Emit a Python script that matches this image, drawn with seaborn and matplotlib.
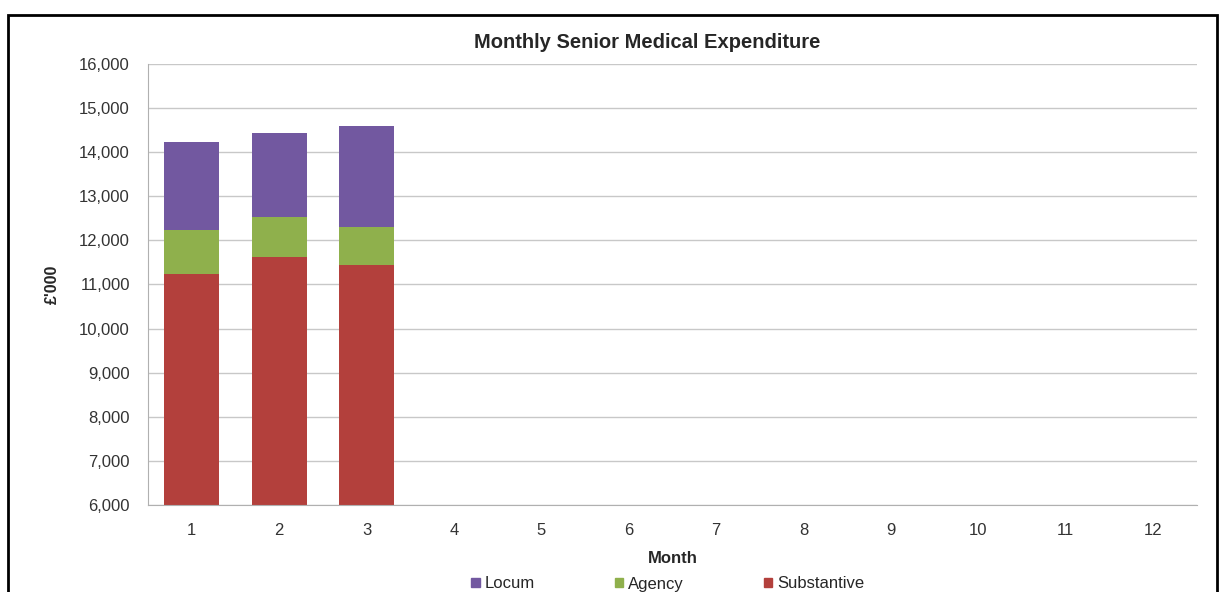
import pandas as pd
import numpy as np
import seaborn as sns
import matplotlib.pyplot as plt
from matplotlib.patches import Rectangle

sns.set_style('white')
plt.rcParams['font.family'] = ['Liberation Sans', 'DejaVu Sans']

# data (£'000)
months = [str(m) for m in range(1, 13)]
substantive = [11240, 11630, 11440, 0, 0, 0, 0, 0, 0, 0, 0, 0]
agency = [1000, 910, 870, 0, 0, 0, 0, 0, 0, 0, 0, 0]
locum = [1980, 1890, 2290, 0, 0, 0, 0, 0, 0, 0, 0, 0]

colors = {'Locum': '#7258a0', 'Agency': '#8fb04c', 'Substantive': '#b3403c'}

df = pd.DataFrame({'Month': months, 'Substantive': substantive,
                   'Agency': agency, 'Locum': locum})
df['s_a'] = df['Substantive'] + df['Agency']
df['total'] = df['s_a'] + df['Locum']

fig = plt.figure(figsize=(12.19, 5.92), dpi=100)
ax = fig.add_axes([148 / 1219, 1 - 505 / 592, (1197 - 148) / 1219, (505 - 64) / 592])

# stacked bars: draw cumulative totals, tallest first
for col, name in [('total', 'Locum'), ('s_a', 'Agency'), ('Substantive', 'Substantive')]:
    sns.barplot(data=df, x='Month', y=col, color=colors[name], width=0.63,
                saturation=1, ax=ax, linewidth=0)

ax.set_ylim(6000, 16000)
ax.set_yticks(np.arange(6000, 16001, 1000))
ax.set_yticklabels([f'{v:,}' for v in range(6000, 16001, 1000)])
ax.set_xlim(-0.5, 11.5)
ax.yaxis.grid(True, color='#c8c8c8', linewidth=1)
ax.set_axisbelow(True)
for s in ['top', 'right']:
    ax.spines[s].set_visible(False)
for s in ['left', 'bottom']:
    ax.spines[s].set_color('#b0b0b0')
ax.tick_params(axis='y', length=5, color='#b0b0b0', labelsize=12, labelcolor='#333333', pad=8)
ax.tick_params(axis='x', length=0, labelsize=12, labelcolor='#333333', pad=13)
ax.set_xticks(np.arange(-0.5, 12, 1), minor=True)
ax.tick_params(axis='x', which='minor', length=5, color='#b0b0b0')

ax.set_xlabel('Month', fontsize=12, fontweight='bold', labelpad=9)
ax.set_ylabel("£'000", fontsize=11.5, fontweight='bold', labelpad=14)
fig.text(647 / 1219, 1 - 43 / 592, 'Monthly Senior Medical Expenditure',
         ha='center', va='center', fontsize=14.5, fontweight='bold')

handles = [Rectangle((0, 0), 1, 1, color=colors[k]) for k in ['Locum', 'Agency', 'Substantive']]
fig.legend(handles, ['Locum', 'Agency', 'Substantive'], loc='center',
           bbox_to_anchor=(668 / 1219, 1 - 584 / 592), ncol=3, frameon=False, fontsize=12,
           handlelength=0.5, handleheight=0.5, handletextpad=0.3, columnspacing=4.8,
           borderpad=0)

# outer frame around the whole chart
fig.patches.append(Rectangle((8 / 1219, -0.05), 1209 / 1219, 1.05 - 15 / 592,
                             transform=fig.transFigure, fill=False,
                             edgecolor='black', linewidth=2))

fig.savefig('out.png', dpi=100)
